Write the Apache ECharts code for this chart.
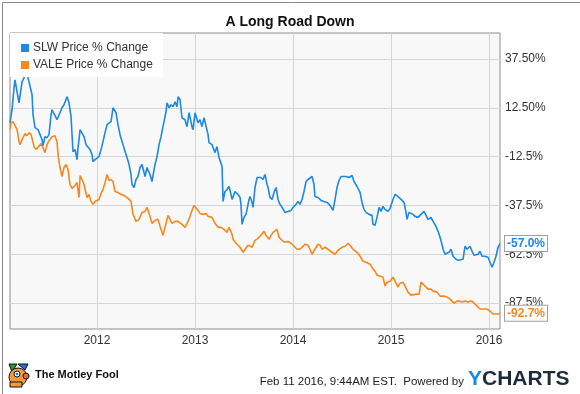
<!DOCTYPE html>
<html><head><meta charset="utf-8">
<script src="https://cdn.jsdelivr.net/npm/echarts@6/dist/echarts.min.js"></script>
<style>html,body{margin:0;padding:0;background:#fff}#c{width:580px;height:394px}</style>
</head><body><div id="c"></div><script>
const chartTitle = 'A Long Road Down';
const seriesNames = ['SLW Price % Change', 'VALE Price % Change'];
const seriesColors = ['#1d88e5', '#f7881f'];
const xTickYears = [2012, 2013, 2014, 2015, 2016];
const yTickValues = [-87.5, -62.5, -37.5, -12.5, 12.5, 37.5];
const yTickLabels = ['-87.5%', '-62.5%', '-37.5%', '-12.5%', '12.50%', '37.50%'];
const endLabels = ['-57.0%', '-92.7%'];
const footerDate = 'Feb 11 2016, 9:44AM EST.  Powered by';

const slwYears = [
2011.112,2011.133,2011.153,2011.163,2011.184,2011.204,2011.214,2011.235,2011.255,2011.265,
2011.286,2011.296,2011.316,2011.337,2011.347,2011.367,2011.398,2011.418,2011.439,2011.449,
2011.469,2011.490,2011.510,2011.531,2011.541,2011.561,2011.592,2011.612,2011.643,2011.663,
2011.694,2011.714,2011.735,2011.745,2011.755,2011.776,2011.796,2011.806,2011.816,2011.827,
2011.847,2011.867,2011.888,2011.908,2011.929,2011.949,2011.959,2011.980,2012.000,2012.020,
2012.041,2012.061,2012.082,2012.102,2012.122,2012.143,2012.163,2012.173,2012.194,2012.214,
2012.235,2012.265,2012.286,2012.306,2012.327,2012.347,2012.357,2012.378,2012.398,2012.418,
2012.439,2012.459,2012.469,2012.490,2012.510,2012.541,2012.561,2012.582,2012.592,2012.612,
2012.633,2012.653,2012.673,2012.684,2012.704,2012.714,2012.735,2012.755,2012.776,2012.796,
2012.816,2012.827,2012.847,2012.867,2012.898,2012.918,2012.939,2012.949,2012.969,2012.980,
2013.000,2013.010,2013.031,2013.051,2013.071,2013.092,2013.112,2013.133,2013.143,2013.173,
2013.204,2013.224,2013.245,2013.276,2013.286,2013.306,2013.327,2013.347,2013.367,2013.378,
2013.408,2013.439,2013.459,2013.469,2013.480,2013.500,2013.520,2013.531,2013.551,2013.561,
2013.582,2013.592,2013.612,2013.633,2013.653,2013.673,2013.694,2013.714,2013.735,2013.745,
2013.765,2013.786,2013.806,2013.827,2013.847,2013.867,2013.888,2013.918,2013.949,2013.980,
2014.000,2014.031,2014.051,2014.071,2014.092,2014.112,2014.133,2014.153,2014.173,2014.194,
2014.214,2014.224,2014.255,2014.286,2014.316,2014.347,2014.378,2014.408,2014.429,2014.449,
2014.469,2014.490,2014.510,2014.541,2014.571,2014.602,2014.622,2014.653,2014.684,2014.704,
2014.724,2014.745,2014.776,2014.806,2014.816,2014.837,2014.857,2014.878,2014.898,2014.918,
2014.939,2014.969,2014.990,2015.000,2015.020,2015.041,2015.071,2015.102,2015.122,2015.133,
2015.153,2015.163,2015.184,2015.204,2015.224,2015.245,2015.276,2015.306,2015.337,2015.357,
2015.378,2015.408,2015.429,2015.459,2015.480,2015.500,2015.520,2015.531,2015.551,2015.571,
2015.592,2015.612,2015.633,2015.663,2015.684,2015.704,2015.735,2015.755,2015.776,2015.806,
2015.827,2015.847,2015.857,2015.888,2015.908,2015.929,2015.959,2015.990,2016.010,2016.031,
2016.051,2016.071,2016.092,2016.112
];
const slwChange = [
4.85,11.48,22.70,26.79,20.66,15.05,14.03,25.77,27.81,30.87,
34.44,27.81,23.73,19.13,8.93,2.30,1.28,0.26,-3.83,-6.89,
-2.30,-2.81,-1.28,8.93,11.48,9.44,6.38,7.40,12.50,14.03,
18.11,15.05,7.91,-1.28,-9.95,-8.93,-14.03,-7.91,-3.83,1.28,
2.30,-2.30,-6.38,-5.36,-8.93,-11.48,-15.05,-14.03,-14.03,-12.50,
-8.93,-4.85,-0.26,3.83,4.85,5.36,12.50,13.01,9.95,3.83,
-1.28,-6.38,-9.95,-13.01,-16.58,-21.68,-26.79,-28.32,-24.23,-22.70,
-18.11,-16.58,-17.60,-22.70,-18.11,-21.68,-25.26,-19.13,-16.58,-12.50,
-6.38,-2.30,2.81,5.36,10.46,15.05,12.50,14.03,13.01,15.56,
13.01,18.11,16.58,7.40,6.38,2.81,9.95,8.93,2.81,1.28,
9.95,10.46,4.85,6.38,2.81,7.40,7.40,-1.28,-5.36,-6.38,
-10.46,-7.40,-13.01,-17.60,-35.46,-30.36,-29.34,-27.81,-31.89,-34.44,
-30.36,-31.89,-33.42,-36.99,-47.19,-43.62,-42.09,-39.54,-34.44,-32.91,
-35.97,-38.52,-28.32,-23.21,-22.70,-23.21,-24.23,-21.68,-26.79,-28.32,
-33.42,-34.44,-30.87,-28.32,-34.44,-36.99,-38.52,-41.07,-40.56,-40.05,
-38.52,-36.99,-35.46,-36.99,-34.44,-30.36,-25.26,-24.23,-23.21,-22.70,
-26.79,-32.91,-33.42,-34.95,-35.46,-35.97,-37.50,-40.05,-34.44,-28.32,
-24.74,-22.70,-22.19,-22.70,-23.21,-22.19,-25.26,-27.81,-30.87,-35.97,
-39.54,-41.07,-42.09,-42.60,-47.19,-47.70,-43.62,-38.52,-40.56,-38.01,
-39.54,-40.56,-39.03,-38.01,-34.44,-31.89,-32.91,-34.44,-33.42,-35.97,
-41.07,-44.64,-41.07,-42.09,-42.09,-43.11,-43.62,-42.09,-40.56,-41.58,
-44.64,-43.62,-45.66,-48.21,-50.77,-53.83,-57.40,-59.95,-62.50,-61.99,
-61.48,-59.95,-63.52,-65.05,-65.56,-66.58,-65.05,-58.42,-59.95,-58.42,
-60.97,-63.01,-64.03,-62.50,-60.97,-63.52,-63.52,-64.03,-66.58,-69.13,
-66.58,-63.52,-58.93,-57.0
];

const valeYears = [
2011.112,2011.122,2011.143,2011.163,2011.184,2011.204,2011.214,2011.235,2011.265,2011.286,
2011.306,2011.327,2011.357,2011.378,2011.398,2011.429,2011.449,2011.469,2011.490,2011.510,
2011.541,2011.571,2011.592,2011.602,2011.622,2011.643,2011.663,2011.684,2011.704,2011.724,
2011.745,2011.776,2011.796,2011.816,2011.827,2011.847,2011.867,2011.898,2011.918,2011.939,
2011.959,2011.980,2012.000,2012.020,2012.041,2012.061,2012.082,2012.102,2012.122,2012.143,
2012.163,2012.184,2012.214,2012.245,2012.276,2012.286,2012.316,2012.347,2012.367,2012.398,
2012.429,2012.459,2012.490,2012.510,2012.531,2012.561,2012.592,2012.622,2012.643,2012.673,
2012.694,2012.724,2012.745,2012.765,2012.796,2012.827,2012.847,2012.867,2012.898,2012.929,
2012.949,2012.969,2012.990,2013.010,2013.031,2013.051,2013.082,2013.112,2013.133,2013.173,
2013.204,2013.235,2013.265,2013.296,2013.327,2013.347,2013.378,2013.388,2013.418,2013.459,
2013.490,2013.510,2013.541,2013.561,2013.582,2013.612,2013.643,2013.673,2013.704,2013.724,
2013.755,2013.776,2013.796,2013.816,2013.837,2013.857,2013.888,2013.918,2013.949,2013.980,
2014.010,2014.041,2014.071,2014.092,2014.122,2014.153,2014.173,2014.194,2014.224,2014.255,
2014.276,2014.296,2014.327,2014.357,2014.398,2014.429,2014.459,2014.500,2014.531,2014.561,
2014.582,2014.612,2014.653,2014.684,2014.714,2014.745,2014.786,2014.816,2014.837,2014.857,
2014.888,2014.918,2014.939,2014.959,2014.990,2015.020,2015.041,2015.071,2015.092,2015.122,
2015.143,2015.173,2015.204,2015.224,2015.255,2015.286,2015.306,2015.316,2015.347,2015.378,
2015.408,2015.429,2015.469,2015.500,2015.541,2015.571,2015.602,2015.622,2015.643,2015.673,
2015.694,2015.724,2015.735,2015.755,2015.786,2015.816,2015.837,2015.878,2015.908,2015.949,
2015.980,2016.010,2016.041,2016.061,2016.092,2016.112
];
const valeChange = [
1.28,4.85,5.36,3.32,1.28,-4.85,-6.38,-3.83,-0.77,-1.79,
-0.26,-1.28,-7.40,-8.93,-8.42,-5.87,-7.91,-10.46,-6.38,-4.34,
-2.30,-1.79,-4.85,-11.48,-18.11,-22.70,-18.11,-16.58,-19.13,-26.79,
-28.83,-27.30,-25.77,-33.42,-22.19,-24.23,-26.79,-33.42,-31.89,-35.46,
-36.99,-35.46,-35.46,-34.44,-31.38,-29.34,-25.77,-21.68,-24.74,-24.23,
-25.26,-30.36,-30.87,-31.89,-32.40,-32.91,-33.93,-35.46,-42.09,-45.66,
-44.64,-41.07,-40.56,-38.52,-41.58,-46.68,-45.15,-44.64,-48.21,-52.81,
-48.72,-42.60,-44.64,-46.68,-45.66,-45.66,-45.66,-47.19,-48.72,-45.66,
-43.11,-40.05,-37.50,-36.48,-40.05,-41.58,-42.09,-41.58,-43.11,-43.62,
-46.68,-48.72,-48.72,-49.74,-51.28,-48.72,-52.30,-54.85,-56.89,-58.93,
-61.48,-62.50,-57.91,-57.91,-58.93,-55.36,-54.34,-52.81,-50.77,-52.81,
-54.85,-52.81,-51.28,-51.79,-49.74,-53.83,-55.36,-56.38,-55.87,-56.89,
-58.42,-59.95,-59.95,-58.93,-57.40,-57.91,-59.95,-62.50,-59.95,-57.40,
-57.91,-59.95,-58.93,-59.95,-61.48,-62.50,-60.46,-58.93,-58.42,-56.89,
-57.91,-59.95,-61.48,-63.52,-66.07,-66.58,-67.60,-70.15,-71.17,-73.21,
-73.72,-74.23,-78.83,-76.79,-76.28,-74.23,-76.28,-79.34,-77.30,-76.79,
-78.83,-81.89,-83.42,-82.40,-82.91,-82.91,-76.79,-76.28,-78.83,-80.36,
-80.36,-81.38,-81.89,-83.93,-83.93,-84.44,-85.46,-85.46,-87.50,-86.48,
-86.48,-86.99,-88.01,-86.48,-86.99,-86.48,-86.99,-89.03,-90.56,-90.56,
-90.56,-91.58,-93.11,-93.11,-93.11,-92.7
];

const pair = (xs, ys) => xs.map((x, i) => [x, ys[i]]);
const seriesData = [pair(slwYears, slwChange), pair(valeYears, valeChange)];
const FONT = '"Liberation Sans", Arial, sans-serif';

const chart = echarts.init(document.getElementById('c'), null, {renderer: 'canvas'});
chart.setOption({
  animation: false,
  backgroundColor: '#ffffff',
  title: {
    text: chartTitle, left: 'center', top: 10,
    textStyle: {fontFamily: FONT, fontSize: 14, fontWeight: 'bold', color: '#111'}
  },
  legend: {
    orient: 'vertical', left: 10, top: 33,
    padding: [9, 10, 6, 11], itemGap: 5,
    itemWidth: 8, itemHeight: 8, icon: 'rect',
    backgroundColor: '#ffffff',
    textStyle: {fontFamily: FONT, fontSize: 12, color: '#333', padding: [0, 0, 0, -1]},
    data: seriesNames
  },
  grid: {
    left: 10, right: 80, top: 33, bottom: 65, show: true,
    backgroundColor: '#f8f8f8', borderColor: '#8c8c8c', borderWidth: 1
  },
  xAxis: {
    type: 'value', min: slwYears[0], max: slwYears[slwYears.length - 1],
    axisLine: {show: false}, axisTick: {show: false, customValues: xTickYears},
    splitLine: {show: true, lineStyle: {color: '#d6d6d6', width: 1}},
    axisLabel: {customValues: xTickYears, formatter: v => String(Math.round(v)),
      fontFamily: FONT, fontSize: 12, color: '#333', margin: 6}
  },
  yAxis: {
    type: 'value', position: 'right', min: -100.77, max: 50.77,
    axisLine: {show: false}, axisTick: {show: false, customValues: yTickValues},
    splitLine: {show: true, lineStyle: {color: '#d6d6d6', width: 1}},
    axisLabel: {customValues: yTickValues,
      formatter: v => { const i = yTickValues.indexOf(v); return i >= 0 ? yTickLabels[i] : ''; },
      fontFamily: FONT, fontSize: 12, color: '#333', margin: 5}
  },
  series: seriesNames.map((name, i) => ({
    name, type: 'line', data: seriesData[i], showSymbol: false, symbol: 'none',
    color: seriesColors[i], z: 3 - i,
    lineStyle: {width: 1.6, color: seriesColors[i]},
    endLabel: {
      show: true, formatter: endLabels[i], distance: 5,
      fontFamily: FONT, fontSize: 12, fontWeight: 'bold', color: seriesColors[i],
      backgroundColor: '#ffffff', borderColor: '#a0a0a0', borderWidth: 1,
      padding: [2, 2, 1, 2]
    }
  })),
  graphic: [
    {type: 'rect', left: 0, top: 0, shape: {x: 0.5, y: 0.5, width: 579, height: 393},
      style: {fill: 'none', stroke: '#8a8a8a', lineWidth: 1}, silent: true},
    {type: 'group', left: 8, top: 363, children: [
      {type: 'rect', shape: {x: 0, y: 0, width: 24, height: 24}, style: {fill: '#fff'}},
      {type: 'polygon', shape: {points: [[1,1],[9,1],[4,9]]}, style: {fill: '#2e9a3a', stroke: '#111', lineWidth: 1}},
      {type: 'polygon', shape: {points: [[10,1],[20,1],[17,7]]}, style: {fill: '#2a6fd0', stroke: '#111', lineWidth: 1}},
      {type: 'circle', shape: {cx: 10, cy: 14, r: 9}, style: {fill: '#f59a3c', stroke: '#111', lineWidth: 1}},
      {type: 'circle', shape: {cx: 9, cy: 11, r: 3}, style: {fill: '#fff', stroke: '#111', lineWidth: 1}},
      {type: 'circle', shape: {cx: 9, cy: 11, r: 1.3}, style: {fill: '#2a6fd0'}},
      {type: 'circle', shape: {cx: 18, cy: 13, r: 3}, style: {fill: '#f06a20', stroke: '#111', lineWidth: 1}},
      {type: 'rect', shape: {x: 2, y: 19, width: 12, height: 5}, style: {fill: '#f59a3c', stroke: '#111', lineWidth: 1}}
    ]},
    {type: 'text', left: 35, top: 369,
      style: {text: 'The Motley Fool', font: 'bold 11px "Liberation Sans", Arial', fill: '#111'}},
    {type: 'text', right: 116, top: 376,
      style: {text: footerDate, font: '11.5px "Liberation Sans", Arial', fill: '#222'}},
    {type: 'text', left: 468, top: 369,
      style: {text: '{y|Y}{c|CHARTS}', rich: {
        y: {font: 'bold 21px "Liberation Sans", Arial', fill: '#1a8ae5'},
        c: {font: 'bold 21px "Liberation Sans", Arial', fill: '#1e2b3a'}
      }}}
  ]
});
</script></body></html>
